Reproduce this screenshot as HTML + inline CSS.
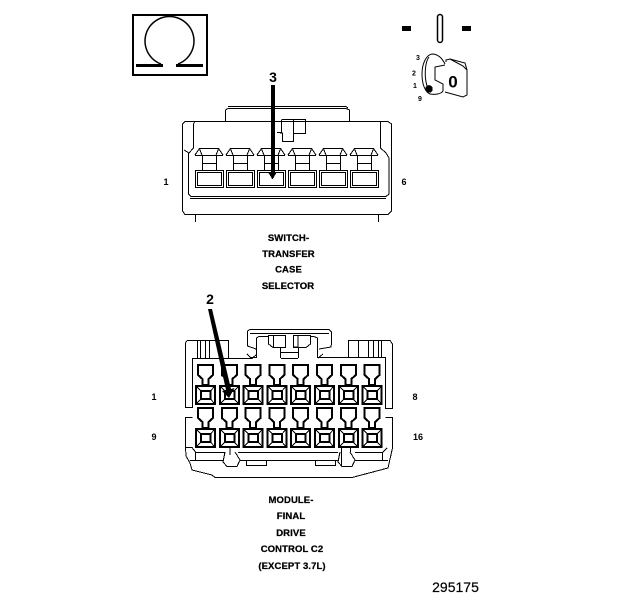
<!DOCTYPE html>
<html><head><meta charset="utf-8"><style>
html,body{margin:0;padding:0;background:#fff}
svg{display:block;font-family:"Liberation Sans",sans-serif}
text{fill:#000}
.l{font-size:9.5px;font-weight:bold;text-anchor:middle;stroke:#000;stroke-width:.25px;letter-spacing:.1px}
.n{font-size:9px;font-weight:bold;text-anchor:middle}
.k{font-size:7px;font-weight:bold;text-anchor:middle}
</style></head><body>
<svg width="624" height="600" viewBox="0 0 624 600" shape-rendering="crispEdges">
<defs>
<g id="t1" fill="none" stroke="#000" stroke-width="1">
<path d="M195 155.500 H223 M195 155 L199.500 148.500 H218.500 L223 155 M199.500 149 L202 155 M218.500 149 L216 155"/>
<path d="M202.500 155 V170 M216.500 155 V170 M202.500 163.500 H216.500"/>
<rect x="195.500" y="170.500" width="28" height="17"/>
<rect x="197.500" y="172.500" width="24" height="13"/>
</g>
<g id="t2">
<path d="M198 365 H213 V375 L208.500 379 V385 H202.500 V379 L198 375 Z" fill="#fff" stroke="#000" stroke-width="2"/>
<rect x="196" y="386" width="19" height="18" fill="#fff" stroke="#000" stroke-width="2"/>
<rect x="201" y="391" width="9.500" height="8" fill="#fff" stroke="#000" stroke-width="2"/>
<path d="M196 386 L201 391 M215 386 L210.500 391 M196 404 L201 399 M215 404 L210.500 399" stroke="#000" stroke-width="1" fill="none"/>
</g>
</defs>

<!-- Omega -->
<rect x="133" y="15" width="74" height="60" fill="none" stroke="#000" stroke-width="2"/>
<path d="M161 64 A24.500 24.500 0 1 1 178 64" fill="none" stroke="#000" stroke-width="1.500" shape-rendering="auto"/>
<rect x="136" y="64" width="27" height="3"/><rect x="176" y="64" width="27" height="3"/>

<!-- Key -->
<rect x="402" y="26" width="9" height="5"/><rect x="462" y="26" width="9" height="5"/>
<rect x="437.500" y="14.500" width="5" height="28" rx="2.500" fill="none" stroke="#000" stroke-width="1.500" shape-rendering="auto"/>
<g fill="none" stroke="#000" stroke-width="1" shape-rendering="auto">
<path d="M445 64 C441 56 436 54 432 54 C426 55 422 64 422 74 C422 84 425 92 430 94 C435 95 441 94 443 91 L443 84 L435 80 L435 67 L445 65"/>
<path d="M429 57 C425 62 424 76 427 86"/>
<path d="M446 62 L446 60 L450 59 L465 63 L467 70 L467 95 L463 97 L445 92"/>
<path d="M450 59 L463 66 L467 70"/>
</g>
<circle cx="429" cy="89" r="3.800"/>
<text x="453" y="87.500" font-size="17" font-weight="bold" text-anchor="middle">0</text>
<text class="k" x="418" y="60">3</text>
<text class="k" x="414" y="75.500">2</text>
<text class="k" x="415" y="88">1</text>
<text class="k" x="420" y="101">9</text>

<!-- Upper connector -->
<g fill="none" stroke="#000" stroke-width="1">
<path d="M225.500 121 V110 L228 108.500 H346 L349.500 110 V121"/>
<path d="M228 106.500 H346 L348 108"/>
<path d="M185 121.500 H388 L391.500 124 V211 L388 214.500 H185 L182.500 211 V124 L185 121.500"/>
<path d="M194.500 122 L193.500 124 V148 L189 153 L184 150"/>
<path d="M380.500 122 V148 L386 153 L389 158 V194 L386 196.500 H191 L188.500 194 V153"/>
<path d="M190 198.500 H386"/>
<path d="M195.500 214 V222 M378.500 214 V222"/>
<path d="M281.500 119.500 H305.500 V133.500 H293.500 V141.500 H282.500 V133 L277 132.500 H281.500 V120"/>
<path d="M293.500 120 V133"/>
</g>
<use href="#t1"/><use href="#t1" x="31"/><use href="#t1" x="62"/><use href="#t1" x="93"/><use href="#t1" x="124"/><use href="#t1" x="155"/>
<rect x="271" y="85" width="4" height="88"/>
<path d="M268 172 H277 L272.500 179.500 Z"/>
<text x="273" y="82" font-size="14" font-weight="bold" text-anchor="middle">3</text>

<!-- Lower connector -->
<g fill="none" stroke="#000" stroke-width="1">
<!-- left -->
<path d="M187 340.500 H228.500 V358 M185.500 343 L187 340.500 M185.500 343 V407.500 H192.500 V358 M192.500 417.500 H185.500 V447 L186 456 L190 463 L192 470 L212 475 L215 477.500 H352 L388 468 L392.500 448"/>
<path d="M197.500 341 V358 M200.500 341 V358 M205.500 341 V358 M209.500 341 V358"/>
<path d="M192 358.500 H252 L257 354"/>
<!-- latch -->
<path d="M247.500 345 V331 L250 329.500 H329 L331.500 332 V345 M247.500 345 L247.500 346 L256 349 M331 345 L331 347 L319 349"/>
<path d="M250 333.500 H329"/>
<path d="M256.500 358 V338 L259 336.500 H268 M317.500 358 V338 L314 336.500 H310"/>
<path d="M268.500 335.500 H285.500 V347.500 H273 L268.500 344 Z M293.500 335.500 H310.500 V344 L306 347.500 H293.500 Z M273.500 336 V347 M298 336 V347"/>
<path d="M280.500 347 V358 M298.500 347 V358 M281 352.500 H298 M281 358.500 H298 M293.500 347 L298 347"/>
<path d="M250 357.500 H256 M247 354 L251 358 M318 358 L323 354"/>
<!-- right -->
<path d="M318 357.500 H385.500 V408.500 H392.500 V344 L390 340.500 H348.500 V358 M385.500 417.500 H392.500 V448"/>
<path d="M358.500 341 V357 M368.500 341 V357 M373.500 341 V357 M378.500 341 V357 M381.500 341 V357"/>
<!-- bottom -->
<path d="M186 447.500 H192 L195.500 452 V460 M195.500 452.500 H225 M190 460.500 H223"/>
<path d="M238 452.500 H338 M240 460.500 H338"/>
<path d="M355 452.500 H382.500 L387 448 M382.500 452 V460 M355 460.500 H388"/>
<path d="M246.500 460 V465.500 H266.500 V460 M315.500 460 V465.500 H335.500 V460"/>
<path d="M225 452 L223 462 L227 466.500 H237 L240 460 L235 452 M230 447 V455"/>
<path d="M340 452 L338 462 L342 466.500 H352 L355 460 L350 452 M341.500 447 V466 M350.500 447 V452"/>
</g>
<g id="r1"><use href="#t2"/><use href="#t2" x="23.800"/><use href="#t2" x="47.600"/><use href="#t2" x="71.400"/><use href="#t2" x="95.200"/><use href="#t2" x="119"/><use href="#t2" x="142.800"/><use href="#t2" x="166.600"/></g>
<use href="#r1" y="43"/>
<path d="M208 309 L212 309 L231 389 L234.500 388 L229 398 L222 391 L226 390 Z" shape-rendering="auto"/>
<text x="210" y="304" font-size="14" font-weight="bold" text-anchor="middle">2</text>

<!-- Labels -->
<text class="n" x="166" y="185">1</text><text class="n" x="404" y="185">6</text>
<text class="n" x="154" y="400">1</text><text class="n" x="415" y="400">8</text>
<text class="n" x="154" y="440">9</text><text class="n" x="418" y="440">16</text>
<text class="l" x="288.500" y="241">SWITCH-</text>
<text class="l" x="288.500" y="257">TRANSFER</text>
<text class="l" x="288.500" y="272.500">CASE</text>
<text class="l" x="288" y="289">SELECTOR</text>
<text class="l" x="291" y="503">MODULE-</text>
<text class="l" x="291" y="519">FINAL</text>
<text class="l" x="291" y="536">DRIVE</text>
<text class="l" x="292" y="552">CONTROL C2</text>
<text class="l" x="292" y="569">(EXCEPT 3.7L)</text>
<text x="455.500" y="592" font-size="14" text-anchor="middle" stroke="#000" stroke-width=".2">295175</text>
</svg>
</body></html>
